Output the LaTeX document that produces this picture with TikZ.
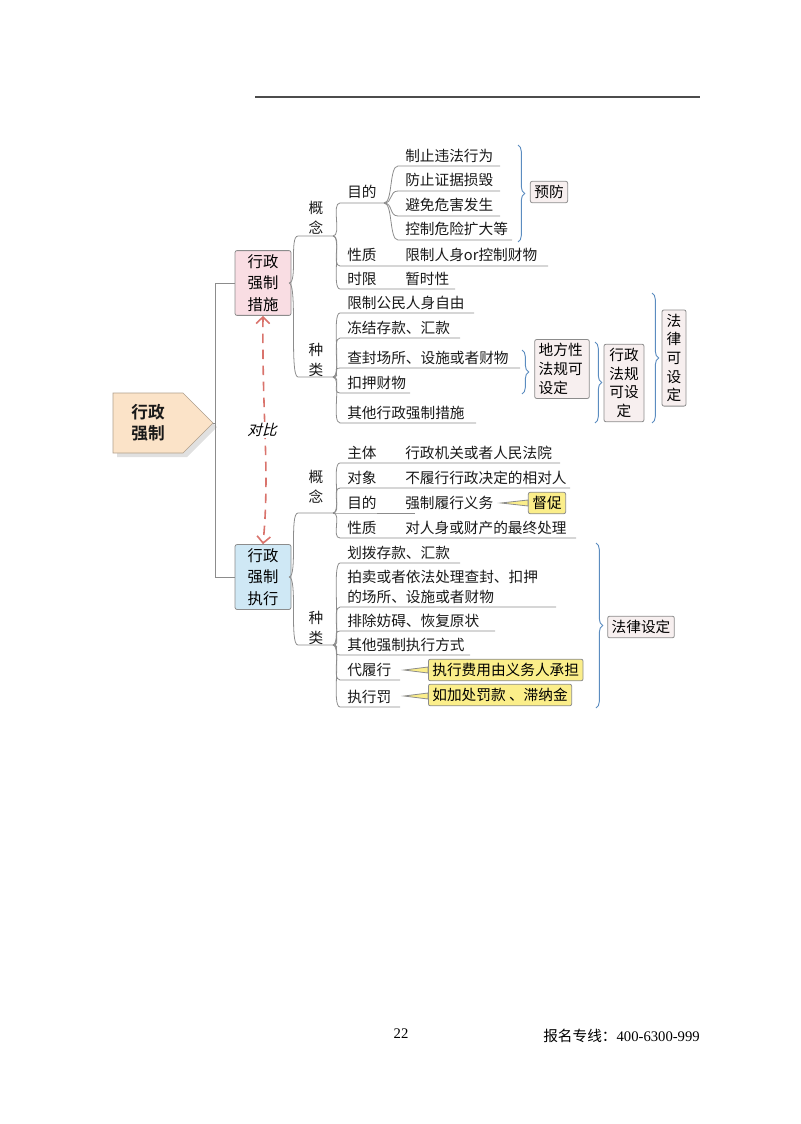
\documentclass[tikz,border=0pt]{standalone}
\usepackage{fontspec}
\setmainfont{Liberation Serif}
\newfontfamily\cjk{Noto Sans CJK SC}[BoldFont={Noto Sans CJK SC Bold}]
\newfontfamily\cjksl{Noto Sans CJK SC}[FakeSlant=0.25]
\usetikzlibrary{calc,decorations.pathreplacing,arrows.meta}
\definecolor{brl}{HTML}{8C8C8C}
\definecolor{brc}{HTML}{5B8CC0}
\definecolor{pinkf}{HTML}{F9DDE3}
\definecolor{bluef}{HTML}{CFE8F5}
\definecolor{peach}{HTML}{FBE3C8}
\definecolor{yel}{HTML}{FBEE8A}
\definecolor{boxf}{HTML}{F7EFEF}
\definecolor{dashred}{HTML}{D9736C}
\tikzset{
  t/.style={font=\cjk\fontsize{11}{13}\selectfont, anchor=west, inner sep=0pt, text=black!90},
  v/.style={font=\cjk\fontsize{11}{15}\selectfont, align=center, inner sep=0pt, text=black!90},
  ln/.style={draw=brl, line width=0.6pt},
  bx/.style={draw=black!45, line width=0.6pt, rounded corners=1.5pt, fill=boxf, font=\cjk\fontsize{11}{14}\selectfont, align=center, inner sep=3pt},
  yb/.style={bx, fill=yel},
  brace/.style={draw=brc, line width=0.7pt, decorate, decoration={brace, amplitude=5pt}},
}
\newcommand\br[3]{\draw[ln] (#1) .. controls ($(#1)+(9,0)$) and ($(#2)+(-9,0)$) .. (#2) -- (#3);}
\begin{document}
\begin{tikzpicture}[x=0.75pt,y=-0.75pt]
\useasboundingbox (0,0) rectangle (800,1124);
% header rule
\coordinate (h1) at (255,97); \coordinate (h2) at (700,97);
\draw[black!70, line width=0.8pt] (h1) -- (h2);
% root
\fill[black!12] (117,397) -- (187,397) -- (217,427) -- (187,457) -- (117,457) -- cycle;
\draw[peach!70!black, line width=0.4pt, fill=peach] (113,393) -- (183,393) -- (213,423) -- (183,453) -- (113,453) -- cycle;
\node[v, font=\cjk\bfseries\fontsize{12.5}{16}\selectfont] (root) at (148,423) {行政\\强制};
% main boxes
\node[bx, fill=pinkf, text width=36pt, font=\cjk\fontsize{11.5}{16}\selectfont] (m1) at (263,283) {行政\\强制\\措施};
\node[bx, fill=bluef, text width=36pt, font=\cjk\fontsize{11.5}{16}\selectfont] (m2) at (263,577) {行政\\强制\\执行};
\coordinate (r0) at (213,423);
\draw[ln] (r0) -- (215,423) |- (m1.west);
\draw[ln] (r0) -- (215,423) |- (m2.west);
% dashed contrast arrow
\draw[dashred, line width=1.2pt, dash pattern=on 7pt off 5pt, {Straight Barb[length=5pt]}-{Straight Barb[length=5pt]}]
  (m1.south) .. controls (262,420) and (270,470) .. (m2.north);
\node[font=\cjksl\fontsize{11}{13}\selectfont, fill=white, inner sep=1pt] (db) at (262,430) {对比};

% ===== upper =====
\coordinate (p1) at (289,283);
\node[v] (gn1) at (316,218) {概\\念};
\node[v] (zl1) at (316,360) {种\\类};
\coordinate (gn1a) at (298,236); \coordinate (gn1b) at (333,236);
\coordinate (zl1a) at (298,377); \coordinate (zl1b) at (333,377);
\br{p1}{gn1a}{gn1b}
\br{p1}{zl1a}{zl1b}
% 目的
\node[t] (md) at (347,192) {目的};
\coordinate (mda) at (340,203); \coordinate (mdb) at (384,203);
\br{gn1b}{mda}{mdb}
\node[t] (a1) at (405,156) {制止违法行为};
\node[t] (a2) at (405,180) {防止证据损毁};
\node[t] (a3) at (405,205) {避免危害发生};
\node[t] (a4) at (405,229) {控制危险扩大等};
\coordinate (a1a) at (398,166); \coordinate (a1b) at (500,166);
\coordinate (a2a) at (398,191); \coordinate (a2b) at (500,191);
\coordinate (a3a) at (398,216); \coordinate (a3b) at (500,216);
\coordinate (a4a) at (398,240); \coordinate (a4b) at (512,240);
\br{mdb}{a1a}{a1b} \br{mdb}{a2a}{a2b} \br{mdb}{a3a}{a3b} \br{mdb}{a4a}{a4b}
\coordinate (bra) at (518,145); \coordinate (brb) at (518,242);
\draw[brace] (bra) -- (brb);
\node[bx] (yf) at (549,192) {预防};
% 性质 时限
\node[t] (xz) at (347,255) {性质};
\node[t] (xzc) at (405,255) {限制人身or控制财物};
\coordinate (xza) at (340,266); \coordinate (xzb) at (548,266);
\br{gn1b}{xza}{xzb}
\node[t] (sx) at (347,279) {时限};
\node[t] (sxc) at (405,279) {暂时性};
\coordinate (sxa) at (340,289); \coordinate (sxb) at (455,289);
\br{gn1b}{sxa}{sxb}
% 种类
\node[t] (b1) at (347,303) {限制公民人身自由};
\node[t] (b2) at (347,328) {冻结存款、汇款};
\node[t] (b3) at (347,358) {查封场所、设施或者财物};
\node[t] (b4) at (347,383) {扣押财物};
\node[t] (b5) at (347,413) {其他行政强制措施};
\coordinate (b1a) at (340,313); \coordinate (b1b) at (474,313);
\coordinate (b2a) at (340,338); \coordinate (b2b) at (460,338);
\coordinate (b3a) at (340,368); \coordinate (b3b) at (520,368);
\coordinate (b4a) at (340,393); \coordinate (b4b) at (410,393);
\coordinate (b5a) at (340,423); \coordinate (b5b) at (476,423);
\br{zl1b}{b1a}{b1b} \br{zl1b}{b2a}{b2b} \br{zl1b}{b3a}{b3b} \br{zl1b}{b4a}{b4b} \br{zl1b}{b5a}{b5b}
\coordinate (c1a) at (522,350); \coordinate (c1b) at (522,394);
\draw[brace] (c1a) -- (c1b);
\node[bx, text width=35pt, align=left] (df) at (562,369) {地方性\\法规可\\设定};
\coordinate (c2a) at (595,342); \coordinate (c2b) at (595,423);
\draw[brace] (c2a) -- (c2b);
\node[bx, text width=24pt] (xf) at (624,383) {行政\\法规\\可设\\定};
\coordinate (c3a) at (652,293); \coordinate (c3b) at (652,423);
\draw[brace] (c3a) -- (c3b);
\node[bx, text width=12pt] (fl) at (674,358) {法\\律\\可\\设\\定};

% ===== lower =====
\coordinate (p2) at (289,577);
\node[v] (gn2) at (316,487) {概\\念};
\node[v] (zl2) at (316,628) {种\\类};
\coordinate (gn2a) at (298,513); \coordinate (gn2b) at (333,513);
\coordinate (zl2a) at (298,645); \coordinate (zl2b) at (333,645);
\br{p2}{gn2a}{gn2b}
\br{p2}{zl2a}{zl2b}
\node[t] (d1) at (347,453) {主体};  \node[t] (d1c) at (405,453) {行政机关或者人民法院};
\node[t] (d2) at (347,478) {对象};  \node[t] (d2c) at (405,478) {不履行行政决定的相对人};
\node[t] (d3) at (347,503) {目的};  \node[t] (d3c) at (405,503) {强制履行义务};
\node[t] (d4) at (347,528) {性质};  \node[t] (d4c) at (405,528) {对人身或财产的最终处理};
\coordinate (d1a) at (340,463); \coordinate (d1b) at (560,463);
\coordinate (d2a) at (340,488); \coordinate (d2b) at (570,488);
\coordinate (d3a) at (340,513); \coordinate (d3b) at (415,513);
\coordinate (d4a) at (340,538); \coordinate (d4b) at (576,538);
\br{gn2b}{d1a}{d1b} \br{gn2b}{d2a}{d2b} \br{gn2b}{d3a}{d3b} \br{gn2b}{d4a}{d4b}
\node[yb] (dc) at (547,503) {督促};
\coordinate (k1) at (501,503);
\draw[ln, fill=yel] (k1) -- (dc.west|-0,500) -- (dc.west|-0,506) -- cycle;
% 种类
\node[t] (e1) at (347,553) {划拨存款、汇款};
\node[t, align=left, font=\cjk\fontsize{11}{14.5}\selectfont] (e2) at (347,587) {拍卖或者依法处理查封、扣押\\的场所、设施或者财物};
\node[t] (e3) at (347,621) {排除妨碍、恢复原状};
\node[t] (e4) at (347,645) {其他强制执行方式};
\node[t] (e5) at (347,670) {代履行};
\node[t] (e6) at (347,697) {执行罚};
\coordinate (e1a) at (340,563); \coordinate (e1b) at (460,563);
\coordinate (e2a) at (340,607); \coordinate (e2b) at (556,607);
\coordinate (e3a) at (340,631); \coordinate (e3b) at (495,631);
\coordinate (e4a) at (340,655); \coordinate (e4b) at (470,655);
\coordinate (e5a) at (340,680); \coordinate (e5b) at (400,680);
\coordinate (e6a) at (340,707); \coordinate (e6b) at (400,707);
\br{zl2b}{e1a}{e1b} \br{zl2b}{e2a}{e2b} \br{zl2b}{e3a}{e3b} \br{zl2b}{e4a}{e4b} \br{zl2b}{e5a}{e5b} \br{zl2b}{e6a}{e6b}
\node[yb, anchor=west] (y1) at (428,670) {执行费用由义务人承担};
\node[yb, anchor=west] (y2) at (428,695) {如加处罚款 、滞纳金};
\coordinate (k2) at (404,670); \coordinate (k3) at (404,696);
\draw[ln, fill=yel] (k2) -- (y1.west|-0,667) -- (y1.west|-0,673) -- cycle;
\draw[ln, fill=yel] (k3) -- (y2.west|-0,693) -- (y2.west|-0,699) -- cycle;
\coordinate (c4a) at (596,543); \coordinate (c4b) at (596,708);
\draw[brace] (c4a) -- (c4b);
\node[bx] (fs) at (641,627) {法律设定};

% footer
\node[font=\fontsize{11}{13}\selectfont, inner sep=0pt] (pg) at (401,1034) {22};
\node[font=\cjk\fontsize{11}{13}\selectfont, inner sep=0pt, anchor=east] (tel) at (700,1036) {报名专线：\fontspec{Liberation Serif}400-6300-999};
\end{tikzpicture}
\end{document}
